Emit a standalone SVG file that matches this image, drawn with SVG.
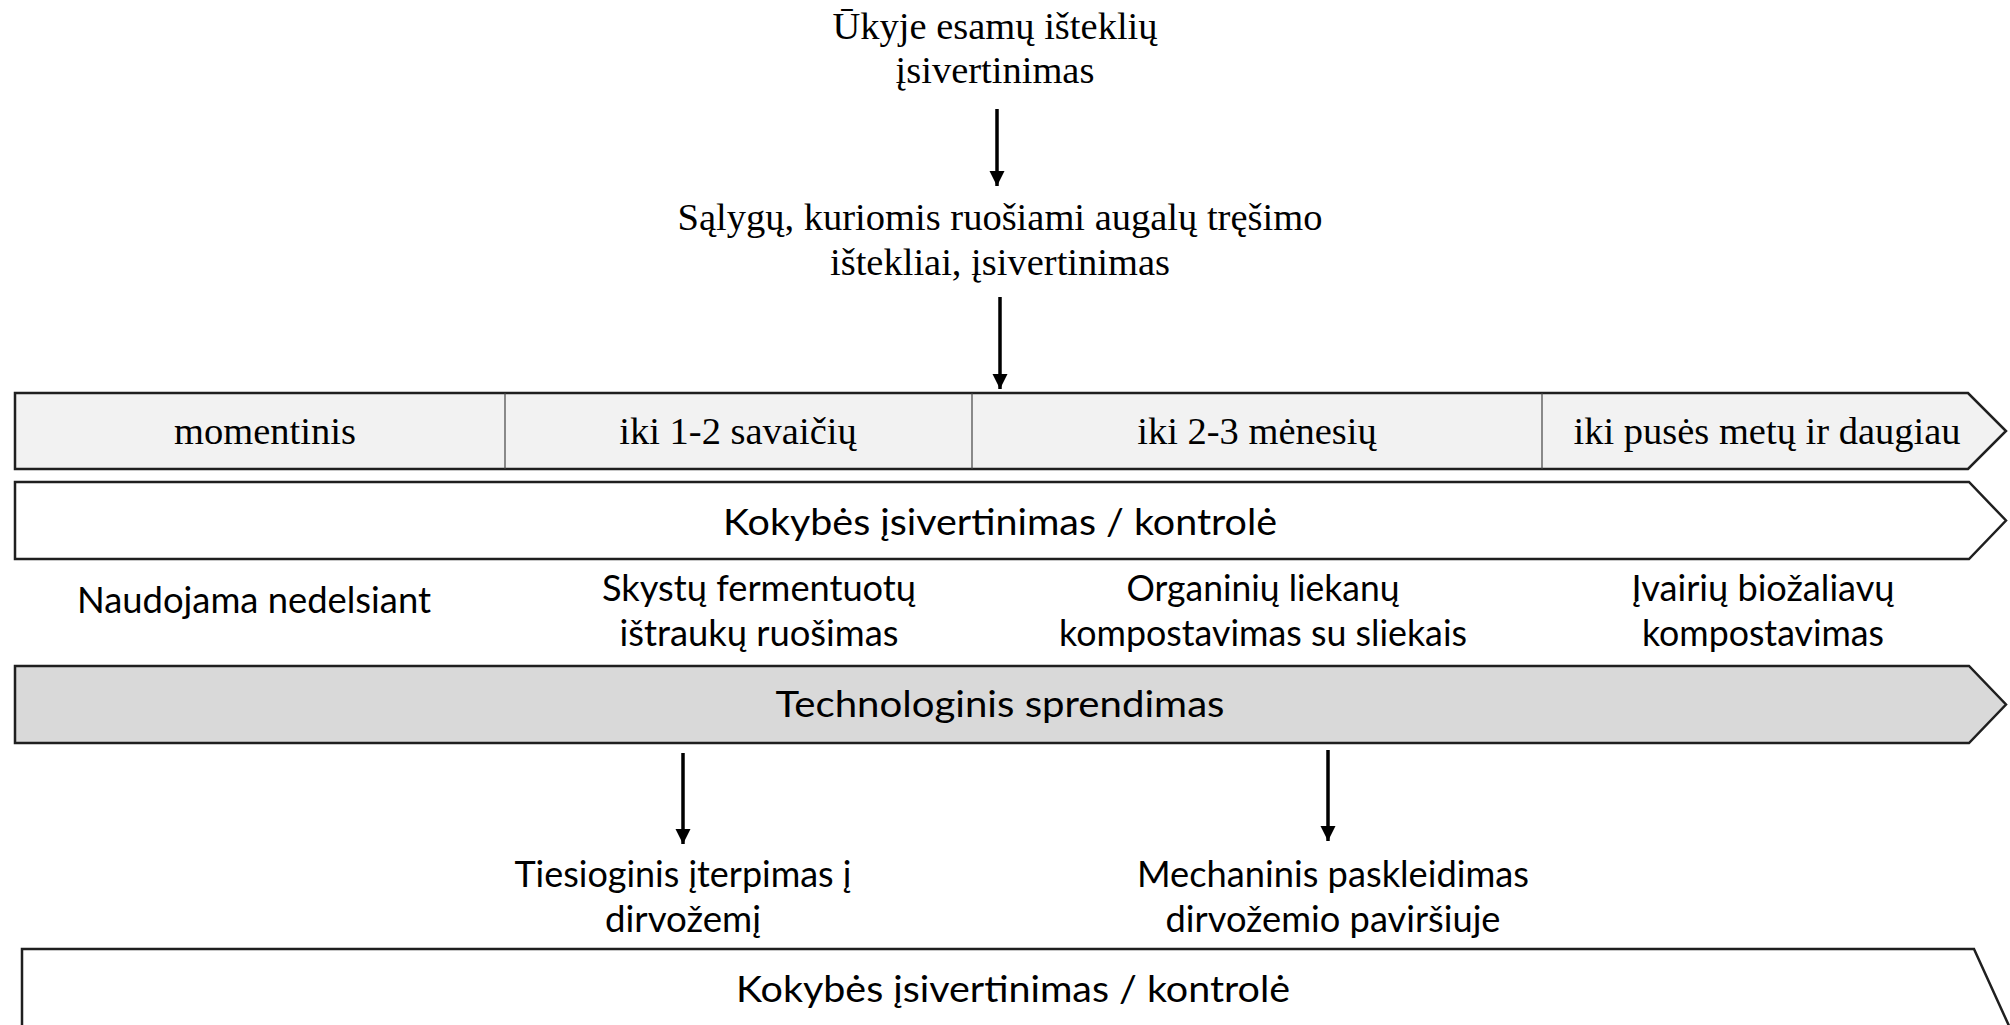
<svg xmlns="http://www.w3.org/2000/svg" width="2010" height="1025" viewBox="0 0 2010 1025">
<style>
.serif{font-family:"Liberation Serif","Times New Roman",serif;font-size:38.5px;fill:#000;text-anchor:middle}
.sans{font-family:Lato,"Open Sans","Liberation Sans",sans-serif;font-size:36px;fill:#000;text-anchor:middle}
.bar{stroke:#1f1f1f;stroke-width:2.5}
.div{stroke:#444;stroke-width:1.2}
.conn{stroke:#000;stroke-width:3.5;fill:none;marker-end:url(#ah)}
</style>
<defs>
<marker id="ah" viewBox="0 0 10 10" refX="10" refY="5" markerWidth="4.3" markerHeight="4.3" markerUnits="strokeWidth" orient="auto">
<path d="M0,0 L10,5 L0,10 z" fill="#000"/>
</marker>
</defs>
<rect width="2010" height="1025" fill="#fff"/>

<g id="n-ukyje">
<text class="serif" x="995" y="39">Ūkyje esamų išteklių</text>
<text class="serif" x="995" y="83">įsivertinimas</text>
</g>
<g id="n-salygu">
<text class="serif" x="1000" y="230">Sąlygų, kuriomis ruošiami augalų tręšimo</text>
<text class="serif" x="1000" y="275">ištekliai, įsivertinimas</text>
</g>

<g id="n-timeline">
<polygon class="bar" fill="#f2f2f2" points="15,393 1968,393 2006,431 1968,469 15,469"/>
<line class="div" x1="505" y1="393" x2="505" y2="469"/>
<line class="div" x1="972" y1="393" x2="972" y2="469"/>
<line class="div" x1="1542" y1="393" x2="1542" y2="469"/>
<text class="serif" x="265" y="444">momentinis</text>
<text class="serif" x="738" y="444">iki 1-2 savaičių</text>
<text class="serif" x="1257" y="444">iki 2-3 mėnesių</text>
<text class="serif" x="1767" y="444">iki pusės metų ir daugiau</text>
</g>

<g id="n-kokybe1">
<polygon class="bar" fill="#ffffff" points="15,482 1969,482 2006,520.5 1969,559 15,559"/>
<text class="sans" x="1000" y="535" textLength="554" lengthAdjust="spacingAndGlyphs">Kokybės įsivertinimas / kontrolė</text>
</g>

<g id="n-naudojama">
<text class="sans" x="254" y="613" textLength="354" lengthAdjust="spacingAndGlyphs">Naudojama nedelsiant</text>
</g>
<g id="n-skystu">
<text class="sans" x="759" y="601" textLength="314" lengthAdjust="spacingAndGlyphs">Skystų fermentuotų</text>
<text class="sans" x="759" y="646" textLength="279" lengthAdjust="spacingAndGlyphs">ištraukų ruošimas</text>
</g>
<g id="n-organiniu">
<text class="sans" x="1263" y="601" textLength="273" lengthAdjust="spacingAndGlyphs">Organinių liekanų</text>
<text class="sans" x="1263" y="646" textLength="408" lengthAdjust="spacingAndGlyphs">kompostavimas su sliekais</text>
</g>
<g id="n-ivairiu">
<text class="sans" x="1763" y="601" textLength="263" lengthAdjust="spacingAndGlyphs">Įvairių biožaliavų</text>
<text class="sans" x="1763" y="646" textLength="242" lengthAdjust="spacingAndGlyphs">kompostavimas</text>
</g>

<g id="n-techno">
<polygon class="bar" fill="#d9d9d9" points="15,666 1969,666 2006,704.5 1969,743 15,743"/>
<text class="sans" x="1000" y="717" textLength="449" lengthAdjust="spacingAndGlyphs">Technologinis sprendimas</text>
</g>

<g id="n-tiesioginis">
<text class="sans" x="683" y="887" textLength="337" lengthAdjust="spacingAndGlyphs">Tiesioginis įterpimas į</text>
<text class="sans" x="683" y="932" textLength="156" lengthAdjust="spacingAndGlyphs">dirvožemį</text>
</g>
<g id="n-mechaninis">
<text class="sans" x="1333" y="887" textLength="392" lengthAdjust="spacingAndGlyphs">Mechaninis paskleidimas</text>
<text class="sans" x="1333" y="932" textLength="335" lengthAdjust="spacingAndGlyphs">dirvožemio paviršiuje</text>
</g>

<g id="n-kokybe2">
<polygon class="bar" fill="#ffffff" points="22,949 1974,949 2020,1050 1974,1150 22,1150"/>
<text class="sans" x="1013" y="1002" textLength="554" lengthAdjust="spacingAndGlyphs">Kokybės įsivertinimas / kontrolė</text>
</g>

<g id="connectors">
<line class="conn" x1="997" y1="109" x2="997" y2="186"/>
<line class="conn" x1="1000" y1="297" x2="1000" y2="389"/>
<line class="conn" x1="683" y1="753" x2="683" y2="844"/>
<line class="conn" x1="1328" y1="750" x2="1328" y2="841"/>
</g>
</svg>
